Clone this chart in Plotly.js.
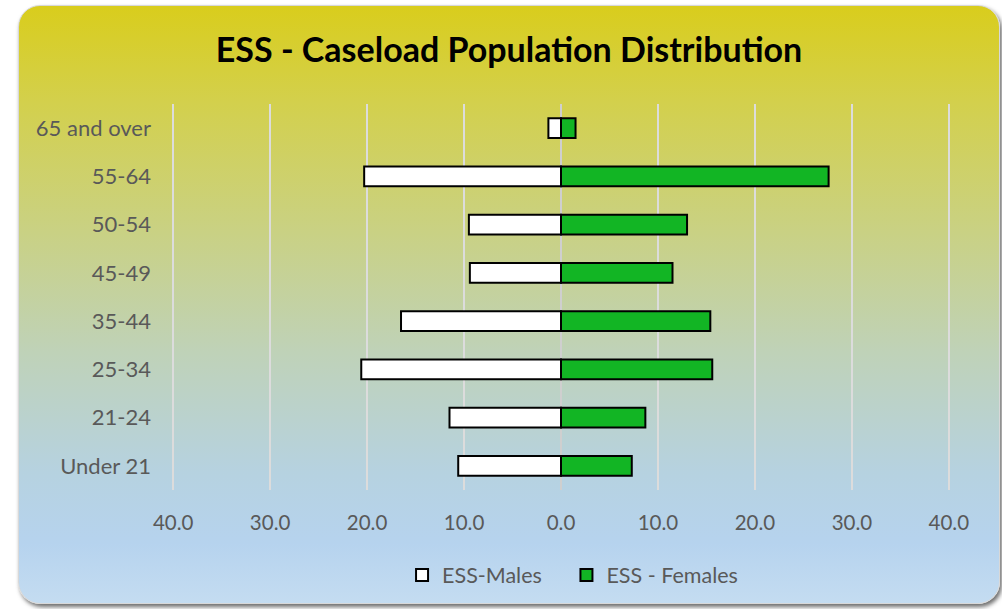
<!DOCTYPE html>
<html>
<head>
<meta charset="utf-8">
<script src="https://cdn.plot.ly/plotly-3.0.1.min.js"></script>
<style>
  html, body { margin: 0; padding: 0; background: #ffffff; width: 1002px; height: 609px; overflow: hidden; }
  #frame {
    position: absolute; left: 18px; top: 5px; width: 980px; height: 597px;
    border-radius: 22px;
    background: linear-gradient(to bottom, #d9cd1c 0%, #d3d04c 16%, #c9d184 38%, #bfd2b8 58%, #b6d2e0 78%, #b6d3ee 90%, #c4dcf1 100%);
    box-shadow: 2px 3px 4px rgba(60,60,60,0.75);
    border: 1px solid #d8d8d8;
  }
  #chart { position: absolute; left: 0; top: 0; width: 1002px; height: 609px; }
</style>
</head>
<body>
<div id="frame"></div>
<div id="chart"></div>
<script>
const categories = ["Under 21", "21-24", "25-34", "35-44", "45-49", "50-54", "55-64", "65 and over"];
const malesValues = [-10.6, -11.5, -20.6, -16.5, -9.4, -9.5, -20.3, -1.3];
const femalesValues = [7.3, 8.7, 15.6, 15.4, 11.5, 13.0, 27.6, 1.5];
const tickVals = [-40, -30, -20, -10, 0, 10, 20, 30, 40];
const tickText = ["40.0", "30.0", "20.0", "10.0", "0.0", "10.0", "20.0", "30.0", "40.0"];

const fam = "Lato, 'Open Sans', sans-serif";
const xFont = { family: fam, size: 20.5, color: "#595959" };
const yFont = { family: fam, size: 22, color: "#595959" };
const legFont = { family: fam, size: 21.5, color: "#595959" };

const traces = [
  {
    type: "bar", orientation: "h", name: "ESS-Males",
    y: categories, x: malesValues,
    marker: { color: "#ffffff", line: { color: "#000000", width: 2 } },
    legend: "legend",
    hoverinfo: "y+x"
  },
  {
    type: "bar", orientation: "h", name: "ESS - Females",
    y: categories, x: femalesValues,
    marker: { color: "#12b524", line: { color: "#000000", width: 2 } },
    legend: "legend2",
    hoverinfo: "y+x"
  }
];

const legendBase = {
  orientation: "h", xanchor: "left", y: -0.22, yanchor: "middle",
  font: legFont, bgcolor: "rgba(0,0,0,0)",
  itemclick: false, itemdoubleclick: false
};

const layout = {
  width: 1002, height: 609,
  paper_bgcolor: "rgba(0,0,0,0)",
  plot_bgcolor: "rgba(0,0,0,0)",
  margin: { l: 172, r: 52, t: 104, b: 119 },
  barmode: "relative",
  bargap: 0.59,
  title: {
    text: "<b>ESS - Caseload Population Distribution</b>",
    font: { family: fam, size: 34, color: "#000000" },
    x: 0.508, xanchor: "center", y: 0.918, yanchor: "middle"
  },
  xaxis: {
    range: [-40.12, 40.12],
    tickvals: tickVals, ticktext: tickText,
    showgrid: true, gridcolor: "#dcdcdc", gridwidth: 2,
    zeroline: true, zerolinecolor: "#cfcfcf", zerolinewidth: 2,
    showline: false, ticks: "",
    tickfont: xFont,
    ticklabelstandoff: 18,
    fixedrange: true
  },
  yaxis: {
    type: "category",
    categoryorder: "array", categoryarray: categories,
    range: [-0.5, 7.5],
    showgrid: false, zeroline: false, showline: false, ticks: "",
    tickfont: yFont,
    ticklabelstandoff: 20,
    fixedrange: true
  },
  showlegend: true,
  legend: Object.assign({}, legendBase, { x: 0.2957 }),
  legend2: Object.assign({}, legendBase, { x: 0.507 })
};

Plotly.newPlot("chart", traces, layout, { displayModeBar: false, staticPlot: true });
</script>
</body>
</html>
